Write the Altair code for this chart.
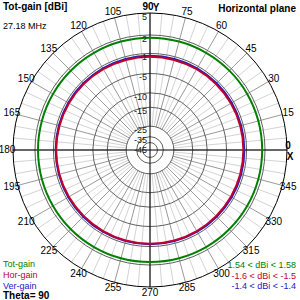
import altair as alt
import pandas as pd
import numpy as np

# ---- data ----
angles = [0, 15, 30, 45, 60, 75, 90, 105, 120, 135, 150, 165,
          180, 195, 210, 225, 240, 255, 270, 285, 300, 315, 330, 345]
tot_gain = [1.57, 1.57, 1.58, 1.58, 1.58, 1.58, 1.58, 1.58, 1.57, 1.56, 1.55, 1.54,
            1.54, 1.54, 1.54, 1.55, 1.55, 1.55, 1.55, 1.55, 1.56, 1.56, 1.57, 1.57]
hor_gain = [-1.58, -1.58, -1.59, -1.6, -1.6, -1.6, -1.6, -1.6, -1.58, -1.56, -1.54, -1.52,
            -1.5, -1.5, -1.52, -1.54, -1.54, -1.52, -1.5, -1.52, -1.54, -1.56, -1.57, -1.58]
ver_gain = [-1.4, -1.4, -1.4, -1.4, -1.4, -1.4, -1.4, -1.4, -1.4, -1.4, -1.4, -1.4,
            -1.4, -1.4, -1.4, -1.4, -1.4, -1.4, -1.4, -1.4, -1.4, -1.4, -1.4, -1.4]
series_names = ["Tot-gain", "Ver-gain", "Hor-gain"]
series_colors = ["#008000", "#2020c0", "#c00030"]

ring_db = [5, 2, -1, -5, -10, -15, -25, -35, -45]
ring_labels = ["5", "2", "-1", "-5", "-10", "-15", "-25", "-35", "-45"]
ring_label_shift = [4, 4, 4, 4, 4, 4, 4, 3, 7]
spoke_angles = list(range(0, 360, 5))
label_angles = [15, 30, 45, 60, 75, 105, 120, 135, 150, 165, 180, 195, 210, 225,
                240, 255, 270, 285, 300, 315, 330, 345]
legend_ranges = ["1.54 < dBi < 1.58", "-1.6 < dBi < -1.5", "-1.4 < dBi < -1.4"]

R = 137
MAXDB = 5
rexpr = f"{R}*pow(0.89,({MAXDB}-datum.db)/2)"

xs = alt.Scale(domain=[-150, 150], nice=False, zero=False)
ys = alt.Scale(domain=[-150, 150], nice=False, zero=False)
X = lambda f: alt.X(f, type="quantitative", scale=xs, axis=None)
Y = lambda f: alt.Y(f, type="quantitative", scale=ys, axis=None)

# spokes
sp = pd.DataFrame({"ang": spoke_angles})
sp["major"] = sp["ang"] % 15 == 0
spokes = alt.Chart(sp).transform_calculate(
    r0=f"{R}*pow(0.89,15)", r1=str(R)
).transform_calculate(
    x="datum.r0*cos(datum.ang*PI/180)", y="datum.r0*sin(datum.ang*PI/180)",
    x2="datum.r1*cos(datum.ang*PI/180)", y2="datum.r1*sin(datum.ang*PI/180)"
).mark_rule().encode(
    x=X("x:Q"), y=Y("y:Q"), x2="x2:Q", y2="y2:Q",
    color=alt.condition("datum.major", alt.value("#9a9a9a"), alt.value("#d4d4d4")),
    strokeWidth=alt.value(1)
)

# rings
rg = pd.DataFrame({"db": ring_db, "lab": ring_labels, "shift": ring_label_shift})
rings = alt.Chart(rg).transform_calculate(
    r=rexpr
).transform_calculate(
    sz="pow(2*datum.r,2)", cx="0", cy="0", outer=f"datum.db=={MAXDB}"
).mark_point(shape="circle", filled=False).encode(
    x=X("cx:Q"), y=Y("cy:Q"),
    size=alt.Size("sz:Q", scale=None),
    color=alt.condition("datum.outer", alt.value("#000000"), alt.value("#606060")),
    strokeWidth=alt.value(1), opacity=alt.value(1)
)

# main axes
ax = pd.DataFrame({"ang": [0, 90]})
axes = alt.Chart(ax).transform_calculate(
    x=f"-{R}*cos(datum.ang*PI/180)", y=f"-{R}*sin(datum.ang*PI/180)",
    x2=f"{R}*cos(datum.ang*PI/180)", y2=f"{R}*sin(datum.ang*PI/180)"
).mark_rule(color="black", strokeWidth=1).encode(
    x=X("x:Q"), y=Y("y:Q"), x2="x2:Q", y2="y2:Q"
)

# patterns
rows = []
for name, vals in zip(series_names, [tot_gain, ver_gain, hor_gain]):
    for a, v in zip(angles, vals):
        rows.append({"ang": a, "db": v, "series": name})
pat = pd.DataFrame(rows)
patterns = alt.Chart(pat).transform_calculate(
    r=rexpr
).transform_calculate(
    x="datum.r*cos(datum.ang*PI/180)", y="datum.r*sin(datum.ang*PI/180)"
).mark_line(interpolate="cardinal-closed", strokeWidth=2).encode(
    x=X("x:Q"), y=Y("y:Q"),
    color=alt.Color("series:N", scale=alt.Scale(domain=series_names, range=series_colors), legend=None),
    detail="series:N",
    order=alt.Order("ang:Q")
)

# ring labels
ring_text = alt.Chart(rg).transform_calculate(
    r=rexpr
).transform_calculate(
    x="-3", y="datum.r-datum.shift"
).mark_text(align="right", baseline="middle", font="Liberation Sans", fontSize=9, color="#202020").encode(
    x=X("x:Q"), y=Y("y:Q"), text="lab:N"
)

# angle labels
al = pd.DataFrame({"ang": label_angles})
al["lab"] = al["ang"].astype(str)
ang_text = alt.Chart(al).transform_calculate(
    x="143*cos(datum.ang*PI/180)", y="143*sin(datum.ang*PI/180)"
).mark_text(align="center", baseline="middle", font="Liberation Sans", fontSize=10, color="black").encode(
    x=X("x:Q"), y=Y("y:Q"), text="lab:N"
)

special = pd.DataFrame({"t": ["0", "X", "90", "Y"], "x": [138, 140, -2, 6], "y": [4, -7, 143, 142]})
special_text = alt.Chart(special).mark_text(align="center", baseline="middle", font="Liberation Sans",
                                            fontSize=10, fontWeight="bold", color="black").encode(
    x=X("x:Q"), y=Y("y:Q"), text="t:N"
)

# corner texts
def corner(texts, xpx, ypx, colors, align="left", bold=False, size=9):
    df = pd.DataFrame({"t": texts, "x": xpx, "y": ypx, "c": colors})
    return alt.Chart(df).mark_text(align=align, baseline="middle", font="Liberation Sans",
                                   fontSize=size, fontWeight="bold" if bold else "normal").encode(
        x=alt.X("x:Q", scale=alt.Scale(domain=[0, 300], nice=False, zero=False), axis=None),
        y=alt.Y("y:Q", scale=alt.Scale(domain=[300, 0], nice=False, zero=False), axis=None),
        text="t:N", color=alt.Color("c:N", scale=None)
    )

title_l = corner(["Tot-gain [dBi]"], [3], [7], ["black"], bold=True, size=10)
freq = corner(["27.18 MHz"], [3], [26], ["black"], size=9)
title_r = corner(["Horizontal plane"], [296], [9], ["black"], align="right", bold=True, size=10)
leg_l = corner(["Tot-gain", "Hor-gain", "Ver-gain"], [3, 3, 3], [264, 275, 286],
               ["#008000", "#c00030", "#2020c0"], size=9)
theta = corner(["Theta= 90"], [3], [296], ["black"], bold=True, size=10)
leg_r = corner(legend_ranges, [296, 296, 296], [265, 276, 286],
               ["#008000", "#c00030", "#2020c0"], align="right", size=9)

chart = alt.layer(
    spokes, rings, axes, patterns, ring_text, ang_text, special_text,
    title_l, freq, title_r, leg_l, theta, leg_r
).resolve_scale(x="independent", y="independent").properties(
    width=300, height=300, autosize=alt.AutoSizeParams(type="none"), padding=0,
    background="white"
).configure_view(stroke=None)

chart.save("out.html", embed_options={"renderer": "svg", "actions": False})
